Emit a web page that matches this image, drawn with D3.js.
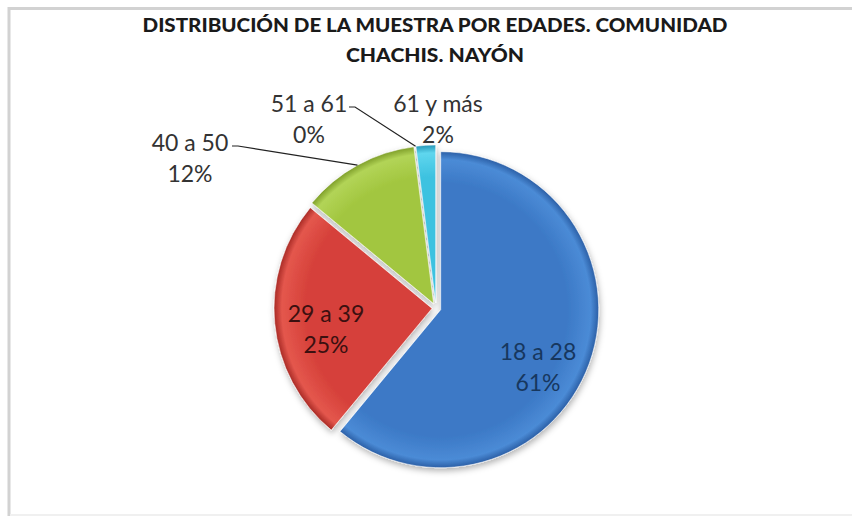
<!DOCTYPE html>
<html>
<head>
<meta charset="utf-8">
<script src="https://cdn.jsdelivr.net/npm/d3@7"></script>
<style>
  body { margin: 0; background: #fff; }
  svg { display: block; }
</style>
</head>
<body>
<div id="chart"></div>
<script>
// data
var categories = ["18 a 28", "29 a 39", "40 a 50", "51 a 61", "61 y más"];
var percents = [61, 25, 12, 0, 2];
var titleLines = ["DISTRIBUCIÓN DE LA MUESTRA POR EDADES. COMUNIDAD", "CHACHIS. NAYÓN"];

// styling / layout, kept apart from the values
var fills = [
    {light: "#4b8bd6", mid: "#3c79c6", dark: "#2b5fa6"},
    {light: "#e4574d", mid: "#d6413a", dark: "#a82a25"},
    {light: "#b2d457", mid: "#a2c63f", dark: "#7f9f2a"},
    {light: "#8a8a8a", mid: "#8a8a8a", dark: "#8a8a8a"},
    {light: "#5fd6ee", mid: "#3ec2e0", dark: "#2597b8"}
];
var explode = [5, 4, 5, 5, 5];
// label placement: x centre, first baseline, text colour, leader start
var labelLayout = [
    {x: 538, y: 360, color: "#17375e"},
    {x: 326, y: 322, color: "#3b1010"},
    {x: 190, y: 151, color: "#333", leader: [232, 146]},
    {x: 309, y: 112, color: "#333", leader: [349, 107]},
    {x: 438, y: 112, color: "#333"}
];

var width = 852, height = 522,
    cx = 436, cy = 308, radius = 158,
    lineGap = 31;

var svg = d3.select("#chart").append("svg")
    .attr("width", width)
    .attr("height", height);

var defs = svg.append("defs");

var shadow = defs.append("filter").attr("id", "shadow")
    .attr("x", "-20%").attr("y", "-20%").attr("width", "140%").attr("height", "140%");
shadow.append("feDropShadow")
    .attr("dx", 1).attr("dy", 3)
    .attr("stdDeviation", 3)
    .attr("flood-color", "#000")
    .attr("flood-opacity", 0.3);

fills.forEach(function(f, i) {
    var g = defs.append("radialGradient")
        .attr("id", "grad" + i)
        .attr("gradientUnits", "userSpaceOnUse")
        .attr("cx", 0).attr("cy", 0).attr("r", radius);
    g.append("stop").attr("offset", "0").attr("stop-color", f.mid);
    g.append("stop").attr("offset", "0.8").attr("stop-color", f.mid);
    g.append("stop").attr("offset", "0.95").attr("stop-color", f.light);
    g.append("stop").attr("offset", "1").attr("stop-color", f.dark);
});

// frame
svg.append("path")
    .attr("d", "M9,516 L9,8.5 L852,8.5")
    .attr("fill", "none")
    .attr("stroke", "#d2d2d2")
    .attr("stroke-width", 3);
svg.append("line")
    .attr("x1", 10).attr("x2", 852).attr("y1", 515).attr("y2", 515)
    .attr("stroke", "#f0f0f0").attr("stroke-width", 2);

// title
svg.selectAll("text.title")
    .data(titleLines)
    .enter().append("text")
    .attr("class", "title")
    .attr("x", 435)
    .attr("y", function(d, i) { return 32 + i * 30; })
    .attr("text-anchor", "middle")
    .attr("font-family", "Lato, 'Open Sans', sans-serif")
    .attr("font-weight", 900)
    .attr("font-size", 18)
    .attr("fill", "#1a1a1a")
    .attr("textLength", function(d, i) { return i === 0 ? 585 : 178; })
    .attr("lengthAdjust", "spacingAndGlyphs")
    .text(function(d) { return d; });

var pie = d3.pie().sort(null).value(function(d) { return d; });
var arcs = pie(percents);

var arc = d3.arc().innerRadius(0).outerRadius(radius);

function offset(d, i) {
    var a = (d.startAngle + d.endAngle) / 2;
    return [Math.sin(a) * explode[i], -Math.cos(a) * explode[i]];
}

var pieG = svg.append("g")
    .attr("transform", "translate(" + cx + "," + cy + ")")
    .attr("filter", "url(#shadow)");

pieG.selectAll("path.slice")
    .data(arcs)
    .enter().append("path")
    .attr("class", "slice")
    .filter(function(d) { return d.endAngle > d.startAngle; })
    .attr("transform", function(d) {
        var o = offset(d, arcs.indexOf(d));
        return "translate(" + o[0] + "," + o[1] + ")";
    })
    .attr("d", arc)
    .attr("fill", function(d) { return "url(#grad" + arcs.indexOf(d) + ")"; })
    .attr("stroke", "rgba(255,255,255,0.55)")
    .attr("stroke-width", 1);

// leader lines go to the middle of each slice's outer edge
arcs.forEach(function(d, i) {
    var lay = labelLayout[i];
    if (!lay.leader) return;
    var a = (d.startAngle + d.endAngle) / 2,
        o = offset(d, i),
        ax = cx + o[0] + Math.sin(a) * radius,
        ay = cy + o[1] - Math.cos(a) * radius;
    svg.append("path")
        .attr("d", "M" + lay.leader[0] + "," + lay.leader[1] +
                   " L" + (lay.leader[0] + 6) + "," + lay.leader[1] +
                   " L" + ax + "," + ay)
        .attr("fill", "none")
        .attr("stroke", "#222")
        .attr("stroke-width", 1.2);
});

var labels = svg.selectAll("g.label")
    .data(arcs)
    .enter().append("g")
    .attr("class", "label");

labels.each(function(d, i) {
    var lay = labelLayout[i];
    var t = d3.select(this).append("text")
        .attr("text-anchor", "middle")
        .attr("font-family", "Lato, 'Open Sans', sans-serif")
        .attr("font-size", 23)
        .attr("fill", lay.color);
    t.append("tspan").attr("x", lay.x).attr("y", lay.y).text(categories[i]);
    t.append("tspan").attr("x", lay.x).attr("y", lay.y + lineGap).text(d3.format(".0%")(d.value / 100));
});
</script>
</body>
</html>
